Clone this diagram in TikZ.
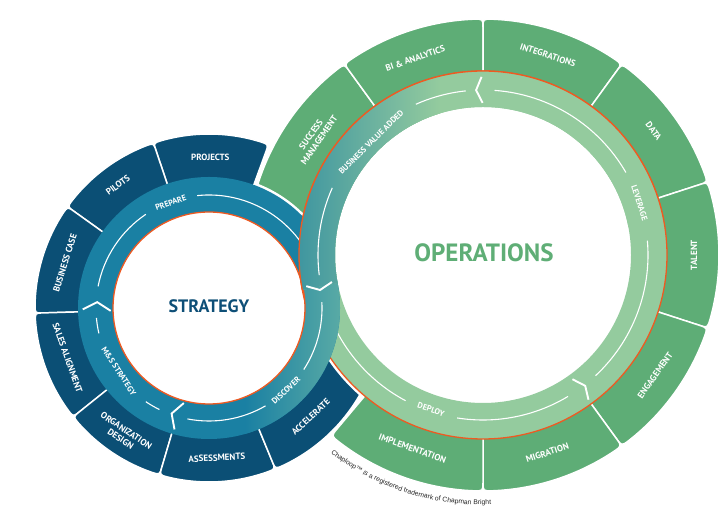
\documentclass[tikz,border=0pt]{standalone}
\usepackage{fontspec}
\setmainfont{Liberation Sans}
\newfontfamily\labfont{PT Sans}
\usetikzlibrary{decorations.text}
\definecolor{navy}{HTML}{0B4F75}
\definecolor{ringblue}{HTML}{1A80A3}
\definecolor{tealA}{HTML}{5AABA5}
\definecolor{tealB}{HTML}{3F96A0}
\definecolor{lgreen}{HTML}{94CB9E}
\definecolor{tgreen}{HTML}{5EAD76}
\definecolor{orng}{HTML}{EE5A22}
\definecolor{stratc}{HTML}{0E4F77}
\definecolor{opc}{HTML}{5FAE76}
\newcommand{\tabpath}[6]{({#1}:{#3}) -- ({#1}:{#4-#6}) .. controls ({#1}:{#4}) .. ({#1+#5}:{#4}) arc[start angle={#1+#5}, end angle={#2-#5}, radius={#4}] .. controls ({#2}:{#4}) .. ({#2}:{#4-#6}) -- ({#2}:{#3}) -- cycle}
\newcommand{\annul}[4]{({#1+#3},{#2}) arc[start angle=0, end angle=360, radius={#3}] -- cycle ({#1+#4},{#2}) arc[start angle=360, end angle=0, radius={#4}] -- cycle}
\newcommand{\greenarcs}{%
  \draw[arcw] (96:165) arc[start angle=96, end angle=114, radius=165];
  \draw[arcw] (156:165) arc[start angle=156, end angle=187, radius=165];
  \draw[arcw] (198:165) arc[start angle=198, end angle=242, radius=165];
  \draw[arcw] (261:165) arc[start angle=261, end angle=301, radius=165];
  \draw[arcw] (-47:165) arc[start angle=-47, end angle=5, radius=165];
  \draw[arcw] (30:165) arc[start angle=30, end angle=86, radius=165];}
\begin{document}
\begin{tikzpicture}[x=1pt,y=1pt,
  tl/.style={text=white, font=\labfont\bfseries\fontsize{9}{10}\selectfont, align=center, inner sep=0pt},
  rl/.style={text=white, font=\labfont\bfseries\fontsize{8.2}{9}\selectfont, inner sep=0pt},
  arcw/.style={white, line width=1.1pt},
  chev/.style={white, line width=1.9pt},
  navytab/.style={fill=navy, draw=white, line width=1.5pt},
  greentab/.style={fill=tgreen, draw=white, line width=1.5pt},
  orline/.style={draw=orng, line width=1.3pt}]
\useasboundingbox (0,0) rectangle (720,508);
\coordinate (A) at (209,200);
\coordinate (B) at (483,253);
% success tab (behind)
\begin{scope}[shift={(483,253)}]
  \path[greentab] \tabpath{126}{172}{160}{236}{2.19}{9};
\end{scope}
% halo round the strategy ring
\fill[white] (209,200) circle (133.5);
% navy tabs
\begin{scope}[shift={(209,200)}]
  \path[navytab] \tabpath{70}{108.6}{115}{174}{2.63}{8};
  \path[navytab] \tabpath{108.6}{144.4}{115}{174}{2.63}{8};
  \path[navytab] \tabpath{144.4}{181.7}{115}{174}{2.63}{8};
  \path[navytab] \tabpath{181.7}{218.7}{115}{174}{2.63}{8};
  \path[navytab] \tabpath{218.7}{253.5}{115}{174}{2.63}{8};
  \path[navytab] \tabpath{253.5}{292.4}{115}{174}{2.63}{8};
  \path[navytab] \tabpath{292.4}{340}{115}{174}{2.63}{8};
\end{scope}
% halo round the operations ring, lower part only
\begin{scope}
  \clip (0,0) rectangle (720,200);
  \fill[white] (483,253) circle (187);
\end{scope}
% green tabs
\begin{scope}[shift={(483,253)}]
  \path[greentab] \tabpath{90}{126}{160}{236}{2.19}{9};
  \path[greentab] \tabpath{54}{90}{160}{236}{2.19}{9};
  \path[greentab] \tabpath{18}{54}{160}{236}{2.19}{9};
  \path[greentab] \tabpath{-18}{18}{160}{236}{2.19}{9};
  \path[greentab] \tabpath{-54}{-18}{160}{236}{2.19}{9};
  \path[greentab] \tabpath{-90}{-54}{160}{236}{2.19}{9};
  \path[greentab] \tabpath{-130}{-90}{160}{236}{2.19}{9};
\end{scope}
% green ring
\fill[lgreen] \annul{483}{253}{184}{148};
\begin{scope}
  \clip (-202,120.5) -- (757,306) -- (757,700) -- (-202,700) -- cycle;
  \clip \annul{483}{253}{184}{148};
  \shade[left color=tealB, right color=lgreen] (298,0) rectangle (440,508);
\end{scope}
\draw[orline] (483,253) circle (184);
\begin{scope}[shift={(483,253)}]
  \greenarcs
\end{scope}
% strategy ring
\fill[ringblue] \annul{209}{200}{131}{96};
\begin{scope}
  \clip (-202,120.5) -- (757,306) -- (757,-200) -- (-202,-200) -- cycle;
  \clip \annul{209}{200}{131}{96};
  \shade[left color=ringblue, right color=tealA] (245,0) rectangle (342,508);
\end{scope}
\draw[orline] (209,200) circle (96);
\begin{scope}[shift={(209,200)}]
  \draw[arcw] (30:113) arc[start angle=30, end angle=96, radius=113];
  \draw[arcw] (-33:113) arc[start angle=-33, end angle=3, radius=113];
  \draw[arcw] (-101:113) arc[start angle=-101, end angle=-60, radius=113];
  \draw[arcw] (236:113) arc[start angle=236, end angle=244, radius=113];
  \draw[arcw] (185:113) arc[start angle=185, end angle=193, radius=113];
  \draw[arcw] (124:113) arc[start angle=124, end angle=169, radius=113];
\end{scope}
% operations ring again on top, upper crossing
\begin{scope}
  \clip (-202,120.5) -- (757,306) -- (757,700) -- (-202,700) -- cycle;
  \fill[lgreen] \annul{483}{253}{184}{148};
  \begin{scope}
    \clip \annul{483}{253}{184}{148};
    \shade[left color=tealB, right color=lgreen] (298,0) rectangle (440,508);
  \end{scope}
  \draw[orline] (483,253) circle (184);
  \begin{scope}[shift={(483,253)}]
    \greenarcs
  \end{scope}
\end{scope}
% chevrons
\begin{scope}[shift={(209,200)}, rotate=177]
  \draw[chev] (126,8) -- (112,0) -- (98,8);
\end{scope}
\begin{scope}[shift={(209,200)}, rotate=250.5]
  \draw[chev] (126,8) -- (112,0) -- (98,8);
\end{scope}
\begin{scope}[shift={(209,200)}, rotate=9.2]
  \draw[chev] (125.5,6) -- (112.5,0) -- (99.5,6);
\end{scope}
\begin{scope}[shift={(483,253)}, rotate=92.4]
  \draw[chev] (178,-6) -- (165,0) -- (152,-6);
\end{scope}
\begin{scope}[shift={(483,253)}, rotate=-52]
  \draw[chev] (179,-6) -- (166,0) -- (153,-6);
\end{scope}
% centre titles
\node[text=stratc, font=\labfont\bfseries\fontsize{18}{21}\selectfont] (strategy) at (209,201.5) {STRATEGY};
\node[text=opc, font=\labfont\bfseries\fontsize{25}{29}\selectfont] (operations) at (484,255) {OPERATIONS};
% strategy labels
\begin{scope}[shift={(209,200)}]
  \node[tl, rotate=0] (projects) at (89.5:151) {PROJECTS};
  \node[tl, rotate=36.5] (pilots) at (126.5:153) {PILOTS};
  \node[tl, rotate=72.6] (bcase) at (162.6:151) {BUSINESS CASE};
  \node[tl, rotate=-70.5] (sales) at (199.5:150) {SALES ALIGNMENT};
  \node[tl, rotate=-34] (org) at (236:153) {ORGANIZATION\\DESIGN};
  \node[tl, rotate=3] (assess) at (273:150) {ASSESSMENTS};
  \node[tl, rotate=43] (accel) at (313:149) {ACCELERATE};
  \node[rl, rotate=20] (prepare) at (110:112) {PREPARE};
  \node[rl, rotate=43] (discover) at (-47:113) {DISCOVER};
  \node[rl, rotate=-57] (msstrat) at (215:110) {M\&S STRATEGY};
\end{scope}
% operations labels
\begin{scope}[shift={(483,253)}]
  \node[tl, rotate=55] (success) at (145:205) {SUCCESS\\MANAGEMENT};
  \node[tl, rotate=19] (bi) at (109:208) {BI \& ANALYTICS};
  \node[tl, rotate=-18] (integ) at (72:210) {INTEGRATIONS};
  \node[tl, rotate=-54] (data) at (36:211) {DATA};
  \node[tl, rotate=90] (talent) at (0:211) {TALENT};
  \node[tl, rotate=55] (engage) at (-35:210) {ENGAGEMENT};
  \node[tl, rotate=18] (migr) at (-72:208) {MIGRATION};
  \node[tl, rotate=-20] (impl) at (-110:206) {IMPLEMENTATION};
  \node[rl, rotate=44.7] (bva) at (134.7:159) {BUSINESS VALUE ADDED};
  \node[rl, rotate=-71.6] (leverage) at (18.4:165) {LEVERAGE};
  \node[rl, rotate=-18.6] (deploy) at (251.4:163) {DEPLOY};
\end{scope}
% trademark
\path[decorate, decoration={text along path, text color=black!85,
   text={|\fontsize{6.8}{7.5}\selectfont|Chaploop™ is a registered trademark of Chapman Bright}}]
   (483,253) ++(-127.5:250) arc[start angle=-127.5, end angle=-80, radius=250];
\end{tikzpicture}
\end{document}
